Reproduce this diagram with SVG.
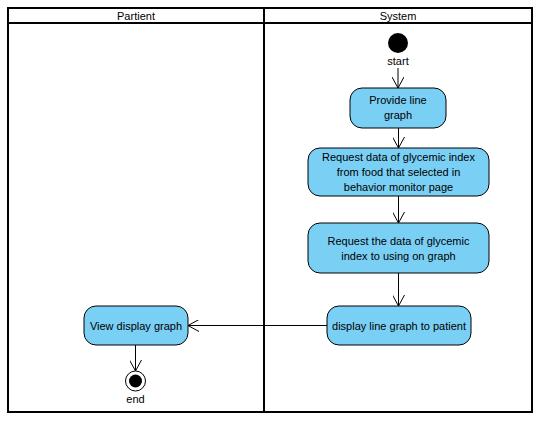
<svg xmlns="http://www.w3.org/2000/svg" width="542" height="421" viewBox="0 0 542 421">
<defs>
<marker id="open" viewBox="0 0 12 12" refX="11" refY="6" markerWidth="12" markerHeight="12" markerUnits="userSpaceOnUse" orient="auto">
<path d="M0,0 L11,6 L0,12" fill="none" stroke="#000" stroke-width="1"/>
</marker>
</defs>
<style>
text{font-family:"Liberation Sans",Arial,sans-serif;font-size:11px;fill:#000;text-anchor:middle}
.act{fill:#7ACFF5;stroke:#000;stroke-width:1}
.lane{fill:none;stroke:#000;stroke-width:2}
.conn{fill:none;stroke:#000;stroke-width:1;marker-end:url(#open)}
</style>
<rect width="542" height="421" fill="#fff"/>
<g id="swimlanes">
<rect class="lane" x="8" y="8" width="524" height="404"/>
<line class="lane" x1="8" y1="23" x2="532" y2="23"/>
<line class="lane" x1="264" y1="8" x2="264" y2="412"/>
<text x="136" y="19.5">Partient</text>
<text x="398" y="19.5">System</text>
</g>
<g id="start">
<circle cx="398" cy="43" r="10" fill="#000"/>
<text x="398" y="65">start</text>
</g>
<g id="provide">
<rect class="act" x="350" y="88" width="96" height="40" rx="12"/>
<text x="398" y="104">Provide line</text>
<text x="398" y="119">graph</text>
</g>
<g id="request1">
<rect class="act" x="308" y="148" width="181" height="48" rx="12"/>
<text x="398.5" y="161">Request data of glycemic index</text>
<text x="398.5" y="176">from food that selected in</text>
<text x="398.5" y="191">behavior monitor page</text>
</g>
<g id="request2">
<rect class="act" x="308" y="223" width="181" height="50" rx="12"/>
<text x="398.5" y="245">Request the data of glycemic</text>
<text x="398.5" y="260">index to using on graph</text>
</g>
<g id="display">
<rect class="act" x="327" y="306" width="144" height="39" rx="12"/>
<text x="399" y="329.5">display line graph to patient</text>
</g>
<g id="view">
<rect class="act" x="84" y="306" width="104" height="39" rx="12"/>
<text x="136" y="329.5">View display graph</text>
</g>
<g id="end">
<circle cx="135.5" cy="381" r="10" fill="#fff" stroke="#000" stroke-width="1"/>
<circle cx="135.5" cy="381" r="6.5" fill="#000"/>
<text x="135.5" y="403">end</text>
</g>
<g id="connectors">
<line class="conn" x1="398" y1="68" x2="398" y2="88"/>
<line class="conn" x1="398.5" y1="128" x2="398.5" y2="148"/>
<line class="conn" x1="398.5" y1="196" x2="398.5" y2="223"/>
<line class="conn" x1="398.5" y1="273" x2="398.5" y2="306"/>
<line class="conn" x1="327" y1="325.5" x2="188" y2="325.5"/>
<line class="conn" x1="135.5" y1="345" x2="135.5" y2="371"/>
</g>
</svg>
